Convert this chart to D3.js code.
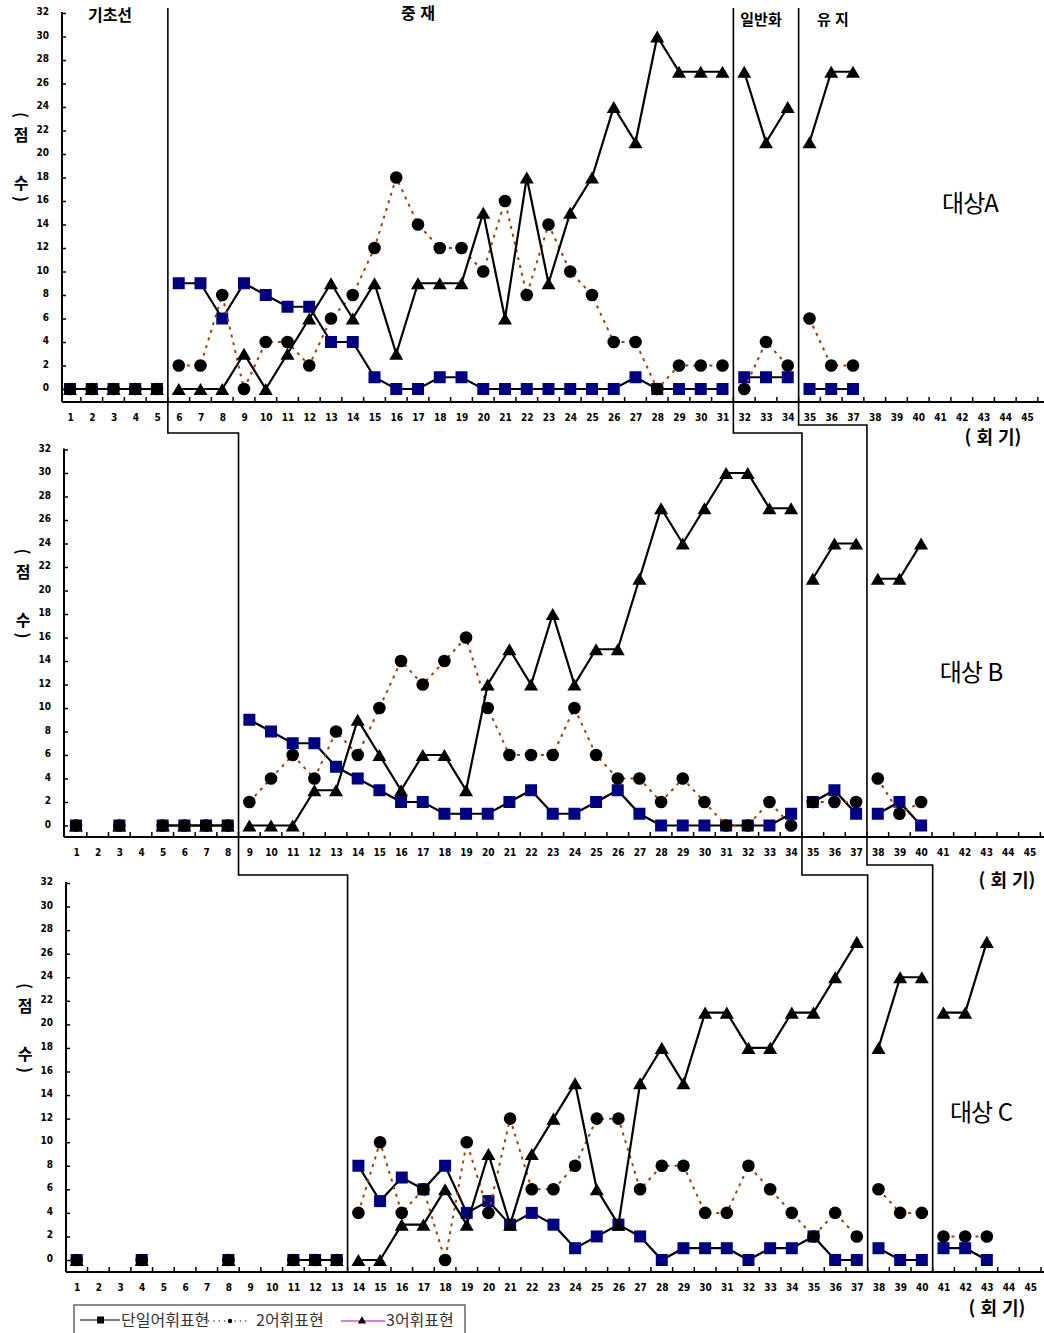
<!DOCTYPE html>
<html lang="ko">
<head>
<meta charset="UTF-8">
<title>대상별 어휘표현 점수</title>
<script src="https://d3js.org/d3.v7.min.js"></script>
<style>
  body { margin: 0; background: #fff; }
  svg { display: block; font-family: 'Noto Sans CJK KR', sans-serif; }
</style>
</head>
<body>
<svg id="chart" width="1044" height="1333"></svg>
<script>
// ---- data ----
const sessionTicks = d3.range(1, 46);
const yTicks = d3.range(0, 33, 2);
const seriesNames = ["단일어휘표현", "2어휘표현", "3어휘표현"];
const phaseNames = ["기초선", "중 재", "일반화", "유 지"];
const subjectNames = ["대상A", "대상 B", "대상 C"];

// 대상 A : 1~37회기 (기초선 1-5, 중재 6-31, 일반화 32-34, 유지 35-37)
const aPhaseEnds = [5, 31, 34];
const aSingle = [0,0,0,0,0, 9,9,6,9,8,7,7,4,4,1,0,0,1,1,0,0,0,0,0,0,0,1,0,0,0,0, 1,1,1, 0,0,0];
const aTwo    = [0,0,0,0,0, 2,2,8,0,4,4,2,6,8,12,18,14,12,12,10,16,8,14,10,8,4,4,0,2,2,2, 0,4,2, 6,2,2];
const aThree  = [0,0,0,0,0, 0,0,0,3,0,3,6,9,6,9,3,9,9,9,15,6,18,9,15,18,24,21,30,27,27,27, 27,21,24, 21,27,27];

// 대상 B : 1~40회기 (기초선 1-8, 중재 9-34, 일반화 35-37, 유지 38-40)
const bPhaseEnds = [8, 34, 37];
const bSingle = [0,null,0,null,0,0,0,0, 9,8,7,7,5,4,3,2,2,1,1,1,2,3,1,1,2,3,1,0,0,0,0,0,0,1, 2,3,1, 1,2,0];
const bTwo    = [0,null,0,null,0,0,0,0, 2,4,6,4,8,6,10,14,12,14,16,10,6,6,6,10,6,4,4,2,4,2,0,0,2,0, 2,2,2, 4,1,2];
const bThree  = [0,null,0,null,0,0,0,0, 0,0,0,3,3,9,6,3,6,6,3,12,15,12,18,12,15,15,21,27,24,27,30,30,27,27, 21,24,24, 21,21,24];

// 대상 C : 1~43회기 (기초선 1-13, 중재 14-37, 일반화 38-40, 유지 41-43)
const cPhaseEnds = [13, 37, 40];
const cSingle = [0,null,null,0,null,null,null,0,null,null,0,0,0, 8,5,7,6,8,4,5,3,4,3,1,2,3,2,0,1,1,1,0,1,1,2,0,0, 1,0,0, 1,1,0];
const cTwo    = [0,null,null,0,null,null,null,0,null,null,0,0,0, 4,10,4,6,0,10,4,12,6,6,8,12,12,6,8,8,4,4,8,6,4,2,4,2, 6,4,4, 2,2,2];
const cThree  = [0,null,null,0,null,null,null,0,null,null,0,0,0, 0,0,3,3,6,3,9,3,9,12,15,6,3,15,18,15,21,21,18,18,21,21,24,27, 18,24,24, 21,21,27];

// ---- layout ----
const W = 1044;
const panels = [
  { name: subjectNames[0], series: [aSingle, aTwo, aThree], phaseEnds: aPhaseEnds,
    axisX: 62, x1: 70, step: 21.75, y0: 389, y32: 13, axisY: 402,
    nameX: 970, nameY: 212, unitX: 993, unitY: 444 },
  { name: subjectNames[1], series: [bSingle, bTwo, bThree], phaseEnds: bPhaseEnds,
    axisX: 64, x1: 76, step: 21.67, y0: 825.5, y32: 449.5, axisY: 837,
    nameX: 971, nameY: 681, unitX: 1007, unitY: 887 },
  { name: subjectNames[2], series: [cSingle, cTwo, cThree], phaseEnds: cPhaseEnds,
    axisX: 66, x1: 76.7, step: 21.67, y0: 1260, y32: 883, axisY: 1272,
    nameX: 981, nameY: 1121, unitX: 997, unitY: 1315 }
];

const navy = "#000080";
const dotColor = "#a0400a";
const tickFont = "'Liberation Sans Narrow', 'DejaVu Sans Condensed', sans-serif";

const svg = d3.select("#chart");

panels.forEach(p => {
  const x = d3.scaleLinear().domain([1, 45]).range([p.x1, p.x1 + 44 * p.step]);
  const y = d3.scaleLinear().domain([0, 32]).range([p.y0, p.y32]);
  p.x = x; p.y = y;
  const g = svg.append("g");

  // y axis
  g.append("line")
    .attr("x1", p.axisX).attr("x2", p.axisX)
    .attr("y1", y(32) - 1).attr("y2", p.axisY)
    .attr("stroke", "#000").attr("stroke-width", 2);
  const yAx = g.append("g")
    .attr("transform", `translate(${p.axisX},0)`)
    .call(d3.axisLeft(y).tickValues(yTicks).tickSize(-4).tickPadding(13));
  yAx.select(".domain").remove();
  yAx.attr("font-family", tickFont).attr("font-size", 10).attr("font-weight", "bold");
  yAx.selectAll("line").attr("stroke-width", 1.5);
  yAx.selectAll("text").attr("dy", "0.15em");

  // x axis
  g.append("line")
    .attr("x1", p.axisX).attr("x2", W)
    .attr("y1", p.axisY).attr("y2", p.axisY)
    .attr("stroke", "#000").attr("stroke-width", 2);
  g.selectAll(".xtick").data(sessionTicks).join("line")
    .attr("x1", d => x(d + 0.5)).attr("x2", d => x(d + 0.5))
    .attr("y1", p.axisY).attr("y2", p.axisY - 5)
    .attr("stroke", "#000").attr("stroke-width", 1.5);
  const xAx = g.append("g")
    .attr("transform", `translate(0,${p.axisY})`)
    .call(d3.axisBottom(x).tickValues(sessionTicks).tickSize(0).tickPadding(12).tickFormat(d3.format("d")));
  xAx.select(".domain").remove();
  xAx.attr("font-family", tickFont).attr("font-size", 10).attr("font-weight", "bold");

  // y title "(점 수)"
  const tx = p.axisX - 41;
  [["(", 274, true], ["점", 255, false], ["수", 207, false], [")", 190, true]].forEach(([t, off, rot]) => {
    const ty = p.y0 - off;
    g.append("text")
      .attr("x", tx).attr("y", ty)
      .attr("text-anchor", "middle").attr("dominant-baseline", "central")
      .attr("font-size", 16).attr("font-weight", "bold")
      .attr("transform", rot ? `rotate(90,${tx},${ty})` : null)
      .text(t);
  });

  // series
  const line = d3.line()
    .defined(d => d.v !== null)
    .x(d => x(d.s)).y(d => y(d.v));
  const bounds = [0, ...p.phaseEnds, p.series[0].length];

  p.series.forEach((vals, k) => {
    const pts = vals.map((v, i) => ({ s: i + 1, v }));
    for (let b = 0; b < bounds.length - 1; b++) {
      const seg = pts.filter(d => d.s > bounds[b] && d.s <= bounds[b + 1]);
      g.append("path").datum(seg)
        .attr("d", line)
        .attr("fill", "none")
        .attr("stroke", k === 1 ? dotColor : "#000")
        .attr("stroke-width", k === 1 ? 2 : 2.2)
        .attr("stroke-dasharray", k === 1 ? "3,5" : null);
    }
    const shown = pts.filter(d => d.v !== null);
    if (k === 0) {
      g.selectAll(null).data(shown).join("rect")
        .attr("x", d => x(d.s) - 6).attr("y", d => y(d.v) - 6)
        .attr("width", 12).attr("height", 12)
        .attr("fill", navy);
    } else if (k === 1) {
      g.selectAll(null).data(shown).join("circle")
        .attr("cx", d => x(d.s)).attr("cy", d => y(d.v)).attr("r", 6.3)
        .attr("fill", "#000");
    } else {
      g.selectAll(null).data(shown).join("path")
        .attr("d", d3.symbol(d3.symbolTriangle, 85))
        .attr("transform", d => `translate(${x(d.s)},${y(d.v) + 2})`)
        .attr("fill", "#000");
    }
  });

  // subject name and unit label
  g.append("text")
    .attr("x", p.nameX).attr("y", p.nameY)
    .attr("text-anchor", "middle").attr("font-size", 24)
    .attr("letter-spacing", -1)
    .text(p.name);
  g.append("text")
    .attr("x", p.unitX).attr("y", p.unitY)
    .attr("text-anchor", "middle").attr("font-size", 18).attr("font-weight", "bold")
    .text("( 회  기)");
});

// phase change lines (stepped across the three panels)
const [pA, pB, pC] = panels;
const stepLine = (iPhase, yAB, yBC) => [
  [pA.x(pA.phaseEnds[iPhase] + 0.5), 8],
  [pA.x(pA.phaseEnds[iPhase] + 0.5), yAB],
  [pB.x(pB.phaseEnds[iPhase] + 0.5), yAB],
  [pB.x(pB.phaseEnds[iPhase] + 0.5), yBC],
  [pC.x(pC.phaseEnds[iPhase] + 0.5), yBC],
  [pC.x(pC.phaseEnds[iPhase] + 0.5), pC.axisY]
];
[stepLine(0, 433, 875), stepLine(1, 433, 875), stepLine(2, 425, 865)].forEach(pts => {
  svg.append("path")
    .attr("d", d3.line()(pts))
    .attr("fill", "none").attr("stroke", "#000").attr("stroke-width", 1.6);
});

// phase labels (panel A)
const phaseLabelPos = [[110, 21], [418, 19], [761, 25], [833, 25]];
phaseNames.forEach((t, i) => {
  svg.append("text")
    .attr("x", phaseLabelPos[i][0]).attr("y", phaseLabelPos[i][1])
    .attr("text-anchor", "middle")
    .attr("font-size", i < 2 ? 16 : 15).attr("font-weight", "bold")
    .text(t);
});

// legend
const lg = svg.append("g").attr("transform", "translate(74,1305)");
lg.append("rect").attr("width", 391).attr("height", 32)
  .attr("fill", "#fff").attr("stroke", "#666").attr("stroke-width", 1.5);
const ly = 15;
lg.append("line").attr("x1", 6).attr("x2", 46).attr("y1", ly).attr("y2", ly)
  .attr("stroke", "#000").attr("stroke-width", 1.2);
lg.append("rect").attr("x", 23).attr("y", ly - 3.5).attr("width", 7).attr("height", 7).attr("fill", "#000");
lg.append("text").attr("x", 47).attr("y", ly + 6).attr("font-size", 16).attr("fill", "#333").text(seriesNames[0]);
lg.append("line").attr("x1", 134).attr("x2", 176).attr("y1", ly + 1).attr("y2", ly + 1)
  .attr("stroke", "#555").attr("stroke-width", 1.3).attr("stroke-dasharray", "1.3,4");
lg.append("circle").attr("cx", 156).attr("cy", ly + 1).attr("r", 2.2).attr("fill", "#000");
lg.append("text").attr("x", 182).attr("y", ly + 6).attr("font-size", 16).attr("fill", "#333").text(seriesNames[1]);
lg.append("line").attr("x1", 267).attr("x2", 311).attr("y1", ly + 1).attr("y2", ly + 1)
  .attr("stroke", "#cc55cc").attr("stroke-width", 1.4);
lg.append("path").attr("d", d3.symbol(d3.symbolTriangle, 30))
  .attr("transform", `translate(288,${ly + 1})`).attr("fill", "#000");
lg.append("text").attr("x", 312).attr("y", ly + 6).attr("font-size", 16).attr("fill", "#333").text(seriesNames[2]);
</script>
</body>
</html>
